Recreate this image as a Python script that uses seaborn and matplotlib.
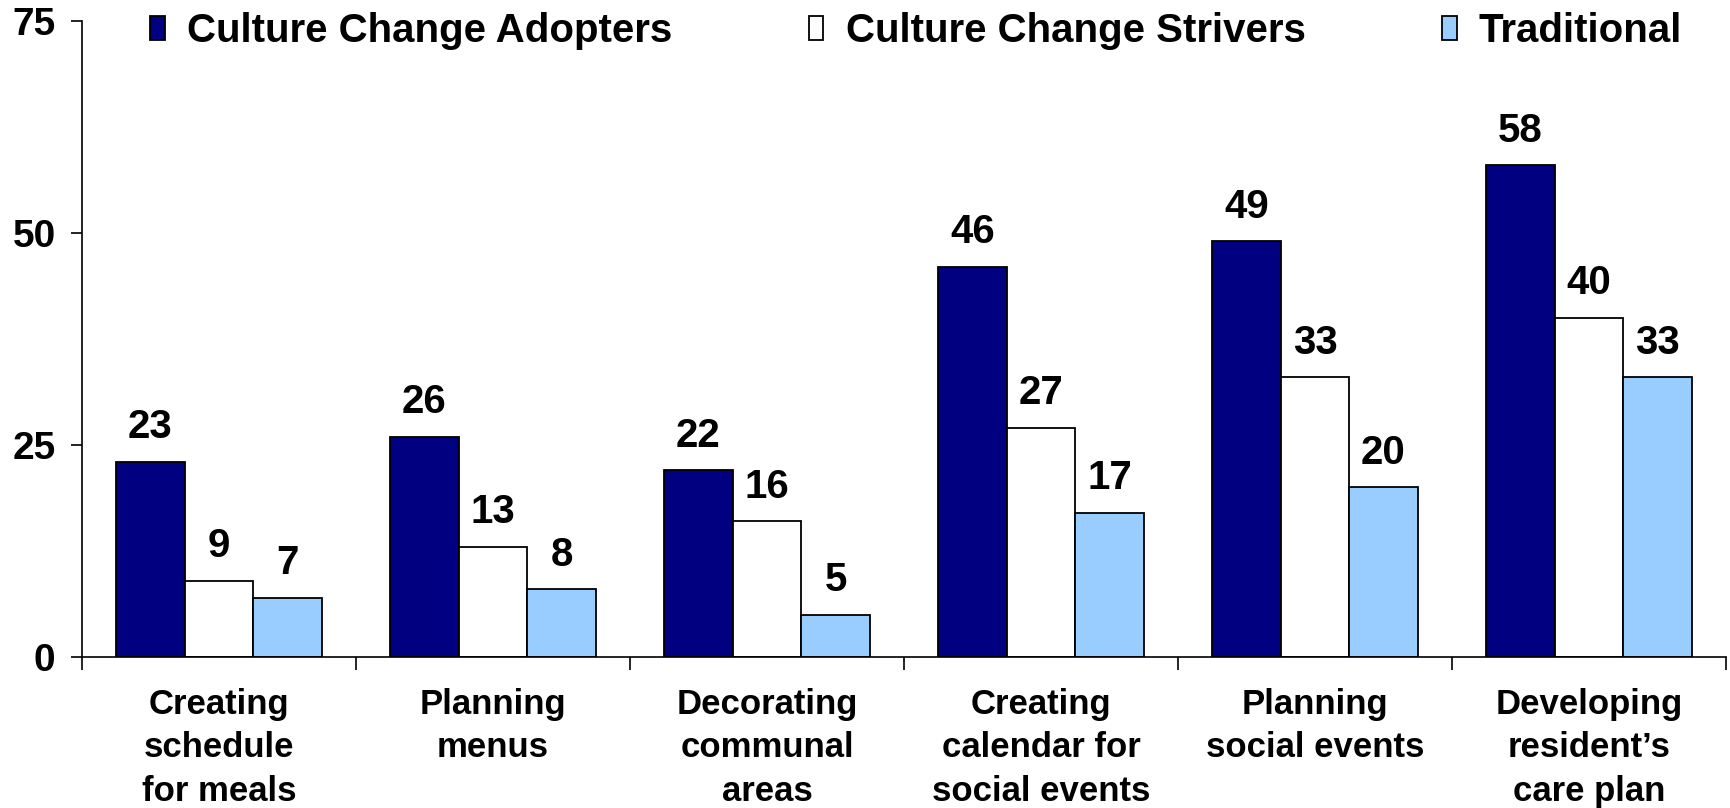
import pandas as pd
import numpy as np
import seaborn as sns
import matplotlib.pyplot as plt

# chart values
categories = ["Creating\nschedule\nfor meals", "Planning\nmenus", "Decorating\ncommunal\nareas",
              "Creating\ncalendar for\nsocial events", "Planning\nsocial events",
              "Developing\nresident\u2019s\ncare plan"]
groups = ["Culture Change Adopters", "Culture Change Strivers", "Traditional"]
adopters = [23, 26, 22, 46, 49, 58]
strivers = [9, 13, 16, 27, 33, 40]
traditional = [7, 8, 5, 17, 20, 33]
colors = ["#000080", "#FFFFFF", "#99CCFF"]

rows = []
for g, vals in zip(groups, [adopters, strivers, traditional]):
    for c, v in zip(categories, vals):
        rows.append({"category": c, "group": g, "value": v})
df = pd.DataFrame(rows)

sns.set_style("white")
plt.rcParams['font.family'] = ['Liberation Sans', 'DejaVu Sans']
plt.rcParams['font.weight'] = 'bold'
plt.rcParams['text.color'] = 'black'
plt.rcParams['xtick.color'] = 'black'
plt.rcParams['ytick.color'] = 'black'

fig = plt.figure(figsize=(17.31, 8.08), dpi=100)
ax = fig.add_axes([82 / 1731, 1 - 657 / 808, (1726 - 82) / 1731, (657 - 21) / 808])

sns.barplot(data=df, x="category", y="value", hue="group", hue_order=groups,
            palette=colors, order=categories, width=0.75, gap=0, saturation=1,
            edgecolor="black", linewidth=1.3, ax=ax)

# value labels
for cont in ax.containers:
    for bar in cont:
        h = bar.get_height()
        ax.annotate(f"{h:.0f}", (bar.get_x() + bar.get_width() / 2, h),
                    xytext=(0, 17), textcoords="offset points",
                    ha="center", va="baseline", fontsize=29, fontweight="bold")

ax.set_xlim(-0.5, len(categories) - 0.5)
ax.set_ylim(0, 75)
ax.set_yticks([0, 25, 50, 75])
ax.tick_params(axis="y", labelsize=28, length=8, width=1.2, direction="out", pad=11, left=True)
ax.set_xticks(np.arange(len(categories)))
ax.set_xticklabels(categories, fontsize=25, fontweight="bold", linespacing=1.42)
ax.tick_params(axis="x", which="major", length=0, pad=22)
ax.set_xticks(np.arange(-0.5, len(categories), 1), minor=True)
ax.tick_params(axis="x", which="minor", length=9, width=1.2, direction="out", bottom=True)
ax.set_xlabel("")
ax.set_ylabel("")

for s in ["top", "right"]:
    ax.spines[s].set_visible(False)
for s in ["left", "bottom"]:
    ax.spines[s].set_color("black")
    ax.spines[s].set_linewidth(1.2)

handles, labels = ax.get_legend_handles_labels()
ax.legend(handles, labels, ncol=3, loc="center left",
          bbox_to_anchor=(150 / 1731, 1 - 31 / 808), bbox_transform=fig.transFigure,
          frameon=False, handlelength=0.36, handleheight=0.55,
          handletextpad=0.55, columnspacing=3.4, borderpad=0, borderaxespad=0,
          prop={"weight": "bold", "size": 29})

fig.savefig("out.png", dpi=100)
